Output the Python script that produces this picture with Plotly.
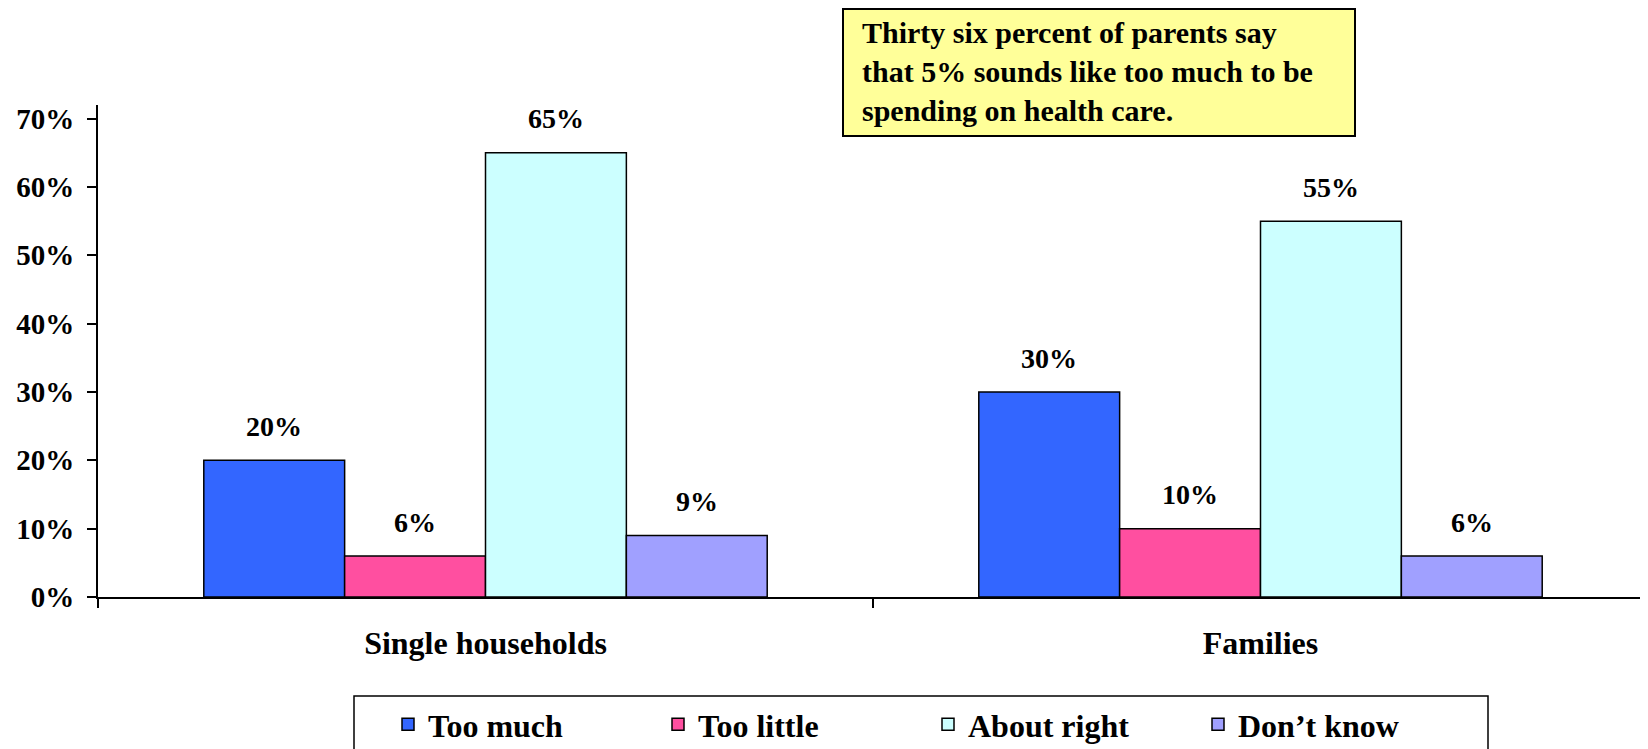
import plotly.graph_objects as go

categories = ["Single households", "Families"]
series_names = ["Too much", "Too little", "About right", "Don\u2019t know"]
too_much = [20, 30]
too_little = [6, 10]
about_right = [65, 55]
dont_know = [9, 6]
series_values = [too_much, too_little, about_right, dont_know]
colors = ["#3366FF", "#FF4FA0", "#CCFFFF", "#A0A0FF"]
y_ticks = [0, 10, 20, 30, 40, 50, 60, 70]
y_tick_text = [f"{v}%" for v in y_ticks]
note = "Thirty six percent of parents say<br>that 5% sounds like too much to be<br>spending on health care."

FONT = "Liberation Serif"
W, H = 1640, 741
ML, MR, MT, MB = 90, 0, 97, 152
bargap = 0.273
plot_w = W - ML - MR
plot_h = H - MT - MB


def px_x(x):
    return (x - ML) / plot_w


def px_y(y):
    return (H - MB - y) / plot_h


fig = go.Figure()
for name, vals, col in zip(series_names, series_values, colors):
    fig.add_trace(go.Bar(
        x=categories, y=vals, name=name,
        marker=dict(color=col, line=dict(color="black", width=1.5)),
    ))

# data labels above bars
n = len(series_names)
w = (1 - bargap) / n
for i, vals in enumerate(series_values):
    for c, v in enumerate(vals):
        fig.add_annotation(
            x=c + (i - (n - 1) / 2) * w, y=v, xref="x", yref="y",
            text=f"<b>{v}%</b>", showarrow=False, yanchor="middle", yshift=34,
            font=dict(family=FONT, size=28, color="black"),
        )

# note box
fig.add_shape(type="rect", xref="paper", yref="paper",
              x0=px_x(835), x1=px_x(1347), y0=px_y(1), y1=px_y(128),
              fillcolor="#FFFF99", line=dict(color="black", width=2), layer="above")
fig.add_annotation(
    xref="paper", yref="paper", x=px_x(852), y=px_y(64),
    xanchor="left", yanchor="middle",
    text=f"<b>{note}</b>", align="left", showarrow=False,
    font=dict(family=FONT, size=30, color="black"),
)

# legend frame
fig.add_shape(type="rect", xref="paper", yref="paper",
              x0=px_x(346), x1=px_x(1480), y0=px_y(760), y1=px_y(688),
              fillcolor="rgba(0,0,0,0)", line=dict(color="black", width=1.5))

fig.update_layout(
    width=W, height=H,
    margin=dict(l=ML, r=MR, t=MT, b=MB, pad=0, autoexpand=False),
    paper_bgcolor="white", plot_bgcolor="white",
    barmode="group", bargap=bargap, bargroupgap=0,
    font=dict(family=FONT, size=28, color="black"),
    showlegend=True,
    legend=dict(
        orientation="h", x=px_x(380), xanchor="left",
        y=px_y(689), yanchor="top",
        bgcolor="rgba(0,0,0,0)", borderwidth=0,
        font=dict(family=FONT, size=32, color="black", weight="bold"),
        entrywidth=225, entrywidthmode="pixels",
        traceorder="normal",
    ),
)
fig.update_xaxes(
    type="category", range=[-0.5, 1.5],
    showline=True, linecolor="black", linewidth=2,
    ticks="outside", tickson="boundaries", ticklen=9, tickcolor="black", tickwidth=1.5,
    tickfont=dict(family=FONT, size=32, color="black", weight="bold"),
    ticklabelstandoff=17,
    showgrid=False, zeroline=False,
)
fig.update_yaxes(
    range=[0, 72], tickvals=y_ticks, ticktext=y_tick_text,
    showline=True, linecolor="black", linewidth=2,
    ticks="outside", ticklen=9, tickcolor="black", tickwidth=1.5,
    tickfont=dict(family=FONT, size=29, color="black", weight="bold"),
    ticklabelstandoff=7,
    showgrid=False, zeroline=False,
)

fig.write_html("out.html")
